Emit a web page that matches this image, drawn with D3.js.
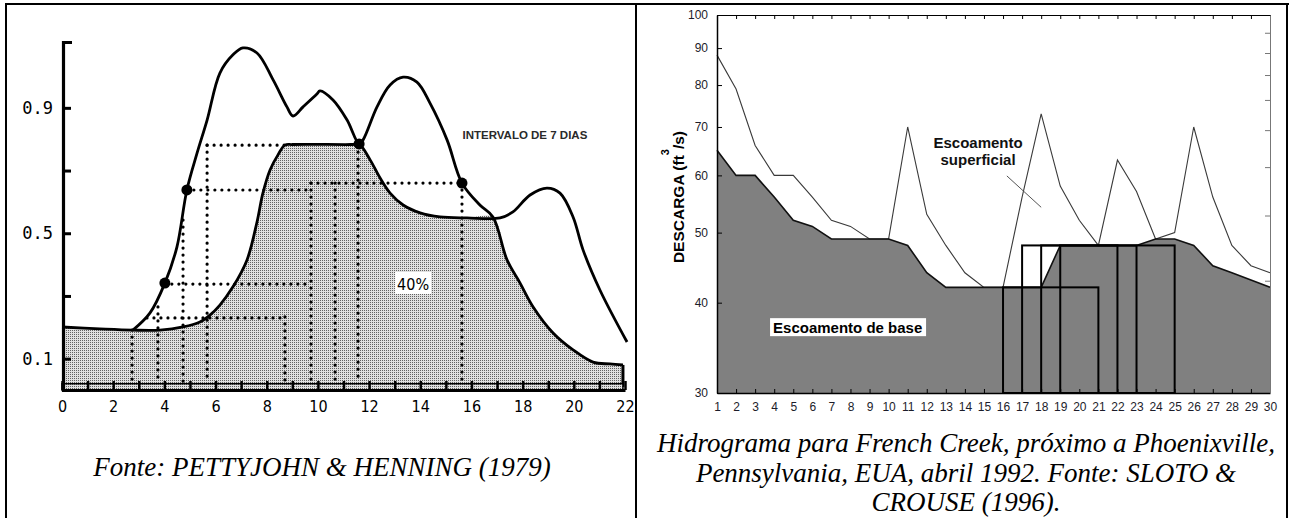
<!DOCTYPE html>
<html>
<head>
<meta charset="utf-8">
<script src="https://cdn.jsdelivr.net/npm/d3@7"></script>
<style>
  html, body { margin: 0; padding: 0; background: #fff; }
  svg { display: block; }
</style>
</head>
<body>
<svg id="fig" width="1291" height="518"></svg>
<script>
// ---------------- Left panel: 7-day interval separation ----------------
const leftXTicks = d3.range(0, 23);              // one tick per day
const leftXLabels = [0, 2, 4, 6, 8, 10, 12, 14, 16, 18, 20, 22];
const leftYTicks = [0.1, 0.3, 0.5, 0.7, 0.9];
const leftYLabels = [0.1, 0.5, 0.9];

// total streamflow hydrograph [time, discharge]
const totalHydrograph = [
  [2.77, 0.191], [3.44, 0.246], [4.02, 0.341], [4.49, 0.456], [4.88, 0.638],
  [5.28, 0.756], [5.67, 0.861], [6.17, 1.011], [6.68, 1.069], [7.07, 1.091],
  [7.62, 1.075], [8.25, 0.989], [8.79, 0.903], [9.03, 0.874], [9.42, 0.903],
  [9.96, 0.944], [10.08, 0.954], [10.59, 0.925], [11.14, 0.861], [11.61, 0.785],
  [11.76, 0.797], [12.31, 0.903], [12.82, 0.973], [13.33, 0.998], [13.87, 0.982],
  [14.38, 0.915], [15.05, 0.797], [15.63, 0.660], [16.33, 0.590], [16.84, 0.552],
  [17.39, 0.415], [17.90, 0.341], [18.41, 0.265], [19.19, 0.182], [19.97, 0.128],
  [20.75, 0.089], [21.41, 0.083], [21.92, 0.080]
];

// base-flow line traced through the interval minima
const baseHydrograph = [
  [0.00, 0.201], [1.48, 0.195], [2.77, 0.191], [3.83, 0.191], [4.73, 0.201],
  [5.39, 0.217], [5.78, 0.239], [6.17, 0.271], [6.68, 0.329], [7.23, 0.415],
  [7.62, 0.536], [7.85, 0.628], [8.13, 0.702], [8.44, 0.750], [8.71, 0.781],
  [9.00, 0.783], [11.30, 0.783], [11.61, 0.784], [12.04, 0.734], [12.43, 0.676],
  [12.82, 0.628], [13.33, 0.590], [13.99, 0.565], [14.77, 0.552], [15.83, 0.549],
  [17.12, 0.549], [17.62, 0.568], [18.29, 0.622], [18.95, 0.644], [19.46, 0.628],
  [19.97, 0.552], [20.36, 0.447], [21.02, 0.319], [22.08, 0.153]
];
const crossingTime = 16.84;

// interval minima marked on the hydrograph
const minimaPoints = [[4.02, 0.341], [4.88, 0.638], [11.61, 0.785], [15.63, 0.660]];

// dotted interval guides: verticals [time, top discharge], horizontals [discharge, t1, t2]
const guideVerticals = [
  [2.74, 0.191], [3.75, 0.265], [4.73, 0.542], [5.67, 0.781], [8.71, 0.233],
  [9.73, 0.660], [10.67, 0.660], [11.57, 0.781], [15.63, 0.660]
];
const guideHorizontals = [
  [0.781, 5.67, 8.71], [0.660, 9.73, 15.63], [0.638, 4.88, 9.73],
  [0.338, 4.02, 9.73], [0.230, 3.32, 8.71]
];

// ---------------- Right panel: French Creek, April 1992 ----------------
const days = d3.range(1, 31);
const totalFlow = [88, 79, 66, 60, 60, 56, 52, 51, 49, 49, 70, 53, 48, 44, 42,
                   42, 56, 73, 58, 52, 48, 63, 57, 49, 50, 70, 56, 48, 45, 44];
const baseFlow  = [65, 60, 60, 56, 52, 51, 49, 49, 49, 49, 48, 44, 42, 42, 42,
                   42, 42, 42, 48, 48, 48, 48, 48, 49, 49, 48, 45, 44, 43, 42];
const rightYTicks = [30, 40, 50, 60, 70, 80, 90, 100];
const secondaryTicks = [42.9, 52.8, 61.6, 69.3, 76.3, 82.6, 88.6, 94.5];
// local-minimum intervals [first day, last day, minimum]
const intervals = [[16, 21, 42], [17, 22, 48], [18, 23, 48], [19, 25, 48]];

// ---------------------------------------------------------------------
const svg = d3.select("#fig");
const defs = svg.append("defs");
const pat = defs.append("pattern").attr("id", "stipple")
  .attr("width", 2).attr("height", 2).attr("patternUnits", "userSpaceOnUse");
pat.append("rect").attr("width", 2).attr("height", 2).attr("fill", "#e0e0e0");
pat.append("rect").attr("width", 1).attr("height", 1).attr("fill", "#626262");

// table frame
const frame = svg.append("g").attr("stroke", "#000").attr("stroke-width", 2);
frame.append("line").attr("x1", 5).attr("x2", 1289).attr("y1", 4).attr("y2", 4);
frame.append("line").attr("x1", 6).attr("x2", 6).attr("y1", 3).attr("y2", 518);
frame.append("line").attr("x1", 636).attr("x2", 636).attr("y1", 3).attr("y2", 518);
frame.append("line").attr("x1", 1287).attr("x2", 1287).attr("y1", 3).attr("y2", 518);

// ----- left chart -----
const xL = d3.scaleLinear().domain([0, 22]).range([62, 625]);
const yL = d3.scaleLinear().domain([0, 1.11]).range([390, 42]);
const gL = svg.append("g");

const shadeTop = baseHydrograph.filter(d => d[0] < crossingTime)
  .concat(totalHydrograph.filter(d => d[0] >= crossingTime));
const smooth = d3.curveCatmullRom.alpha(0.5);

gL.append("path").datum(shadeTop)
  .attr("fill", "url(#stipple)")
  .attr("d", d3.area().x(d => xL(d[0])).y0(yL(0.012)).y1(d => yL(d[1])).curve(smooth));

// dotted guides
const dotted = gL.append("g").attr("stroke", "#000").attr("stroke-width", 3.2)
  .attr("stroke-linecap", "round").attr("stroke-dasharray", "0,7").attr("fill", "none");
guideVerticals.forEach(([t, q]) => {
  dotted.append("line").attr("x1", xL(t)).attr("x2", xL(t))
    .attr("y1", yL(q)).attr("y2", yL(0.025));
});
guideHorizontals.forEach(([q, t1, t2]) => {
  dotted.append("line").attr("x1", xL(t1)).attr("x2", xL(t2))
    .attr("y1", yL(q)).attr("y2", yL(q));
});

// curves
const lineL = d3.line().x(d => xL(d[0])).y(d => yL(d[1])).curve(smooth);
gL.append("path").datum(baseHydrograph).attr("fill", "none")
  .attr("stroke", "#000").attr("stroke-width", 2.8).attr("d", lineL);
gL.append("path").datum(totalHydrograph).attr("fill", "none")
  .attr("stroke", "#000").attr("stroke-width", 2.8).attr("d", lineL);
const lastT = totalHydrograph[totalHydrograph.length - 1];
gL.append("line").attr("x1", xL(lastT[0])).attr("x2", xL(lastT[0]))
  .attr("y1", yL(lastT[1])).attr("y2", yL(0.01))
  .attr("stroke", "#000").attr("stroke-width", 3);

gL.selectAll("circle.min").data(minimaPoints).join("circle")
  .attr("cx", d => xL(d[0])).attr("cy", d => yL(d[1])).attr("r", 5.5).attr("fill", "#000");

// x axis strip
gL.append("rect").attr("x", xL(0)).attr("y", yL(0.02))
  .attr("width", xL(lastT[0]) - xL(0)).attr("height", yL(0.0) - yL(0.02))
  .attr("fill", "url(#stipple)").attr("stroke", "#000").attr("stroke-width", 1.5);
const axL = gL.append("g").attr("transform", `translate(0,${yL(0)})`)
  .call(d3.axisBottom(xL).tickValues(leftXTicks).tickSize(-9).tickSizeOuter(0).tickPadding(11)
    .tickFormat(d => leftXLabels.includes(d) ? d : ""));
axL.select(".domain").attr("stroke-width", 3.2);
axL.selectAll(".tick line").attr("stroke-width", 2.5);
axL.selectAll(".tick text").attr("font-family", "'Liberation Sans Narrow','DejaVu Sans Condensed',sans-serif")
  .attr("font-size", 16).attr("fill", "#000");

const ayL = gL.append("g").attr("transform", `translate(${xL(0) + 1},0)`)
  .call(d3.axisLeft(yL).tickValues(leftYTicks).tickSize(-8).tickSizeOuter(-9).tickPadding(10)
    .tickFormat(d => leftYLabels.includes(d) ? d3.format(".1f")(d) : ""));
ayL.select(".domain").attr("stroke-width", 3.2);
ayL.selectAll(".tick line").attr("stroke-width", 3);
ayL.selectAll(".tick text").attr("font-family", "'DejaVu Sans Mono',monospace")
  .attr("font-size", 17).attr("fill", "#000");

gL.append("text").attr("x", xL(15.65)).attr("y", yL(0.80))
  .attr("font-family", "'Liberation Sans',Arial,sans-serif").attr("font-weight", "bold")
  .attr("font-size", 11.5).attr("fill", "#2a2a2a").text("INTERVALO DE 7 DIAS");

const pctX = xL(13.72), pctY = yL(0.319);
gL.append("rect").attr("x", pctX - 18).attr("y", pctY - 18).attr("width", 36).attr("height", 22)
  .attr("fill", "#fff");
gL.append("text").attr("x", pctX).attr("y", pctY).attr("text-anchor", "middle")
  .attr("font-family", "'Liberation Sans Narrow','DejaVu Sans Condensed',sans-serif")
  .attr("font-size", 16).attr("fill", "#000").text("40%");

svg.append("text").attr("x", 322).attr("y", 476).attr("text-anchor", "middle")
  .attr("font-family", "'Liberation Serif','Times New Roman',serif").attr("font-style", "italic")
  .attr("font-size", 27).attr("fill", "#000").text("Fonte: PETTYJOHN & HENNING (1979)");

// ----- right chart -----
const xR = d3.scaleLinear().domain([1, 30]).range([717, 1270]);
const yR = d3.scaleLog().domain([30, 100]).range([393, 15]);
const gR = svg.append("g");
const flow = days.map((d, i) => ({ day: d, total: totalFlow[i], base: baseFlow[i] }));

gR.append("path").datum(flow).attr("fill", "#808080")
  .attr("d", d3.area().x(d => xR(d.day)).y0(yR(30)).y1(d => yR(d.base)));
gR.append("path").datum(flow).attr("fill", "none").attr("stroke", "#3a3a3a").attr("stroke-width", 1.1)
  .attr("d", d3.line().x(d => xR(d.day)).y(d => yR(d.total)));
gR.append("path").datum(flow).attr("fill", "none").attr("stroke", "#111").attr("stroke-width", 1.6)
  .attr("d", d3.line().x(d => xR(d.day)).y(d => yR(d.base)));

gR.selectAll("rect.interval").data(intervals).join("rect")
  .attr("x", d => xR(d[0])).attr("y", d => yR(d[2]))
  .attr("width", d => xR(d[1]) - xR(d[0])).attr("height", d => yR(30) - yR(d[2]))
  .attr("fill", "none").attr("stroke", "#000").attr("stroke-width", 2);

const tickFont = g => g.selectAll(".tick text")
  .attr("font-family", "'Liberation Sans',Arial,sans-serif").attr("font-size", 12).attr("fill", "#1c1c2a");

const axB = gR.append("g").attr("transform", `translate(0,${yR(30)})`)
  .call(d3.axisBottom(xR).tickValues(days).tickSize(-4).tickSizeOuter(0).tickPadding(9));
axB.call(tickFont);
axB.select(".domain").attr("stroke-width", 1.5);

const axT = gR.append("g").attr("transform", `translate(0,${yR(100)})`)
  .call(d3.axisTop(xR).tickValues(days).tickSize(-4).tickSizeOuter(0).tickFormat(""));
axT.select(".domain").attr("stroke-width", 1.2);

const axLft = gR.append("g").attr("transform", `translate(${xR(1)},0)`)
  .call(d3.axisLeft(yR).tickValues(rightYTicks).tickSize(-5).tickSizeOuter(0).tickPadding(9)
    .tickFormat(d3.format("d")));
axLft.call(tickFont);
axLft.select(".domain").attr("stroke-width", 1.5);

const axRt = gR.append("g").attr("transform", `translate(${xR(30)},0)`)
  .call(d3.axisRight(yR).tickValues(secondaryTicks).tickSize(-5).tickSizeOuter(0).tickFormat(""));
axRt.selectAll("path,line").attr("stroke", "#777");

// axis title
const yTitle = gR.append("text")
  .attr("transform", `translate(684,${yR(56)}) rotate(-90)`)
  .attr("text-anchor", "middle")
  .attr("font-family", "'Liberation Sans',Arial,sans-serif").attr("font-weight", "bold")
  .attr("font-size", 15.5).attr("fill", "#000");
yTitle.append("tspan").text("DESCARGA (ft");
yTitle.append("tspan").attr("dy", -15).attr("font-size", 11).text("3");
yTitle.append("tspan").attr("dy", 15).text("/s)");

// annotations
gR.append("line").attr("x1", xR(16.2)).attr("y1", yR(59.9)).attr("x2", xR(18)).attr("y2", yR(54.2))
  .attr("stroke", "#555").attr("stroke-width", 1);
const sup = gR.append("text").attr("x", xR(14.69)).attr("y", yR(65.5)).attr("text-anchor", "middle")
  .attr("font-family", "'Liberation Sans',Arial,sans-serif").attr("font-weight", "bold")
  .attr("font-size", 15).attr("fill", "#111");
sup.append("tspan").attr("x", xR(14.69)).text("Escoamento");
sup.append("tspan").attr("x", xR(14.69)).attr("dy", 17).text("superficial");

const bx = xR(3.94), by = yR(36.3);
gR.append("rect").attr("x", bx - 3).attr("y", by - 15).attr("width", 156).attr("height", 18).attr("fill", "#fff");
gR.append("text").attr("x", bx).attr("y", by)
  .attr("font-family", "'Liberation Sans',Arial,sans-serif").attr("font-weight", "bold")
  .attr("font-size", 15).attr("fill", "#000").text("Escoamento de base");

// caption
const cap = svg.append("text").attr("text-anchor", "middle")
  .attr("font-family", "'Liberation Serif','Times New Roman',serif").attr("font-style", "italic")
  .attr("font-size", 27).attr("fill", "#000");
["Hidrograma para French Creek, próximo a Phoenixville,",
 "Pennsylvania, EUA, abril 1992. Fonte: SLOTO &",
 "CROUSE (1996)."].forEach((s, i) => {
  cap.append("tspan").attr("x", 966).attr("y", 452 + i * 29.5).text(s);
});
</script>
</body>
</html>
